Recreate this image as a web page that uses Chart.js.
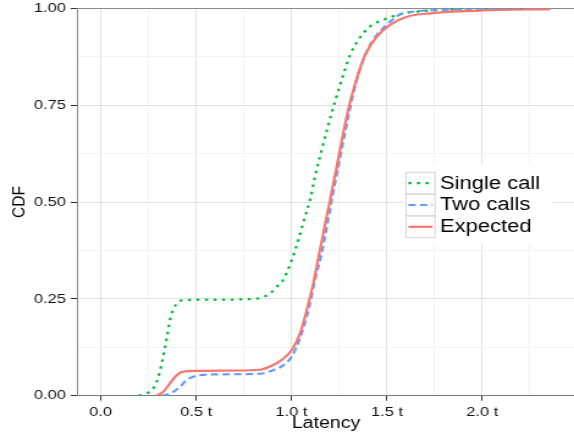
<!DOCTYPE html>
<html>
<head>
<meta charset="utf-8">
<script src="https://cdn.jsdelivr.net/npm/chart.js@4.4.1/dist/chart.umd.min.js"></script>
<style>
  html, body { margin: 0; padding: 0; background: #ffffff; overflow: hidden; }
  #wrap { width: 470px; height: 436px; transform: scaleX(1.2213); transform-origin: 0 0; }
</style>
</head>
<body>
<div id="wrap"><canvas id="c" width="470" height="436"></canvas></div>
<script>
// ---- data ----
const singleX = [0.20, 0.222, 0.250, 0.276, 0.300, 0.320, 0.346, 0.367, 0.398, 0.44, 0.60, 0.80, 0.835, 0.887, 0.931, 0.957, 1.001, 1.036, 1.071, 1.097, 1.123, 1.158, 1.193, 1.228, 1.263, 1.307, 1.350, 1.411, 1.481, 1.569, 1.69, 1.81, 2.00, 2.36];
const singleY = [0.000, 0.003, 0.008, 0.019, 0.045, 0.084, 0.148, 0.204, 0.237, 0.247, 0.248, 0.250, 0.252, 0.264, 0.285, 0.299, 0.350, 0.402, 0.462, 0.505, 0.565, 0.634, 0.699, 0.759, 0.815, 0.879, 0.918, 0.953, 0.970, 0.985, 0.993, 0.996, 0.998, 1.000];

const twoX = [0.32, 0.35, 0.38, 0.416, 0.451, 0.485, 0.52, 0.60, 0.80, 0.852, 0.905, 0.94, 1.001, 1.053, 1.097, 1.123, 1.158, 1.211, 1.245, 1.281, 1.316, 1.35, 1.394, 1.447, 1.507, 1.569, 1.673, 1.80, 2.00, 2.36];
const twoY = [0.000, 0.003, 0.010, 0.023, 0.041, 0.049, 0.053, 0.055, 0.056, 0.058, 0.066, 0.073, 0.101, 0.161, 0.238, 0.299, 0.368, 0.505, 0.591, 0.680, 0.763, 0.828, 0.888, 0.931, 0.961, 0.984, 0.993, 0.996, 0.998, 1.000];

const expX = [0.29, 0.30, 0.328, 0.363, 0.398, 0.433, 0.50, 0.70, 0.835, 0.89, 0.95, 1.001, 1.045, 1.08, 1.114, 1.149, 1.202, 1.237, 1.271, 1.307, 1.342, 1.385, 1.447, 1.516, 1.604, 1.726, 1.988, 2.355];
const expY = [0.000, 0.002, 0.010, 0.032, 0.053, 0.062, 0.064, 0.065, 0.067, 0.076, 0.093, 0.118, 0.161, 0.221, 0.290, 0.376, 0.505, 0.591, 0.677, 0.758, 0.819, 0.879, 0.927, 0.957, 0.978, 0.987, 0.994, 0.998];

const seriesNames = ['Single call', 'Two calls', 'Expected'];
const xMajorValues = [0, 0.5, 1.0, 1.5, 2.0];
const xMajorLabels = ['0.0', '0.5 t', '1.0 t', '1.5 t', '2.0 t'];
const xMinorValues = [0.25, 0.75, 1.25, 1.75, 2.25];
const yMajorValues = [0, 0.25, 0.5, 0.75, 1.0];
const yMajorLabels = ['0.00', '0.25', '0.50', '0.75', '1.00'];
const yMinorValues = [0.125, 0.375, 0.625, 0.875];
const xTitle = 'Latency';
const yTitle = 'CDF';

// ---- styles ----
const FONT = "'Liberation Sans', Arial, Helvetica, sans-serif";
const colors = { 'Single call': '#00BA38', 'Two calls': '#619CFF', 'Expected': '#F8766D' };
const dashes = { 'Single call': [2.5, 4.5], 'Two calls': [6, 3.5], 'Expected': [] };
const LW = 2.2;

function pts(xs, ys) { return xs.map((x, i) => ({ x: x, y: ys[i] })); }
function isIn(arr, v) { return arr.findIndex(a => Math.abs(a - v) < 1e-6); }

const dataMap = {
  'Single call': pts(singleX, singleY),
  'Two calls': pts(twoX, twoY),
  'Expected': pts(expX, expY)
};

// drawn so that Expected is on top
const drawOrder = ['Expected', 'Two calls', 'Single call'];
const datasets = drawOrder.map(name => ({
  label: name,
  data: dataMap[name],
  borderColor: colors[name],
  borderDash: dashes[name],
  borderWidth: LW,
  pointRadius: 0,
  fill: false,
  cubicInterpolationMode: 'monotone'
}));

const legendPlugin = {
  id: 'ggLegend',
  afterDraw(chart) {
    const ctx = chart.ctx;
    ctx.save();
    const bx = 330, by = 165, bw = 123, bh = 79;
    ctx.fillStyle = '#ffffff';
    ctx.fillRect(bx, by, bw, bh);
    const kx = 332.4, kw = 23.8, kh = 21.8, ky0 = 172.3;
    seriesNames.forEach((name, i) => {
      const ky = ky0 + i * kh;
      ctx.strokeStyle = '#d4d4d4';
      ctx.lineWidth = 1;
      ctx.setLineDash([]);
      ctx.strokeRect(kx, ky, kw, kh);
      ctx.strokeStyle = colors[name];
      ctx.lineWidth = LW;
      ctx.setLineDash(dashes[name]);
      ctx.beginPath();
      ctx.moveTo(kx + 2, ky + kh / 2);
      ctx.lineTo(kx + kw - 2, ky + kh / 2);
      ctx.stroke();
      ctx.setLineDash([]);
      ctx.fillStyle = '#000000';
      ctx.font = '18px ' + FONT;
      ctx.textBaseline = 'middle';
      ctx.textAlign = 'left';
      ctx.fillText(name, 360.3, ky + kh / 2 + 0.5);
    });
    ctx.restore();
  }
};

new Chart(document.getElementById('c'), {
  type: 'line',
  data: { datasets: datasets },
  plugins: [legendPlugin],
  options: {
    responsive: false,
    animation: false,
    events: [],
    layout: { padding: { top: 8.3, right: 0, bottom: 0, left: 0 } },
    plugins: { legend: { display: false }, tooltip: { enabled: false } },
    scales: {
      x: {
        type: 'linear',
        min: -0.1188,
        max: 2.481,
        afterBuildTicks(scale) {
          scale.ticks = xMajorValues.concat(xMinorValues).sort((a, b) => a - b).map(v => ({ value: v }));
        },
        afterFit(scale) { scale.height = 40.3; scale.paddingLeft = 0; scale.paddingRight = 0; },
        ticks: {
          autoSkip: false,
          maxRotation: 0,
          padding: 3,
          color: '#111111',
          font: { family: FONT, size: 13.5 },
          callback(v) { const i = isIn(xMajorValues, v); return i >= 0 ? xMajorLabels[i] : ''; }
        },
        grid: {
          color(c) { return isIn(xMajorValues, c.tick.value) >= 0 ? '#e2e2e2' : '#f3f3f3'; },
          lineWidth: 1,
          drawTicks: true,
          tickLength: 5,
          tickWidth: 1,
          tickColor(c) { return isIn(xMajorValues, c.tick.value) >= 0 ? '#333333' : 'rgba(0,0,0,0)'; }
        },
        border: { display: true, color: '#7a7a7a', width: 1 },
        title: {
          display: true,
          text: xTitle,
          color: '#000000',
          font: { family: FONT, size: 16 },
          padding: { top: 0, bottom: 2.5 }
        }
      },
      y: {
        type: 'linear',
        min: 0,
        max: 1,
        afterBuildTicks(scale) {
          scale.ticks = yMajorValues.concat(yMinorValues).sort((a, b) => a - b).map(v => ({ value: v }));
        },
        afterFit(scale) { scale.width = 63.9; scale.paddingTop = 0; scale.paddingBottom = 0; },
        ticks: {
          autoSkip: false,
          padding: 4,
          color: '#111111',
          font: { family: FONT, size: 13.5 },
          callback(v) { const i = isIn(yMajorValues, v); return i >= 0 ? yMajorLabels[i] : ''; }
        },
        grid: {
          color(c) {
            if (Math.abs(c.tick.value - 1) < 1e-6) return '#8a8a8a';
            return isIn(yMajorValues, c.tick.value) >= 0 ? '#e2e2e2' : '#f3f3f3';
          },
          lineWidth: 1,
          drawTicks: true,
          tickLength: 6,
          tickWidth: 1,
          tickColor(c) { return isIn(yMajorValues, c.tick.value) >= 0 ? '#333333' : 'rgba(0,0,0,0)'; }
        },
        border: { display: true, color: '#8a8a8a', width: 1 },
        title: {
          display: true,
          text: yTitle,
          color: '#000000',
          font: { family: FONT, size: 15.5 },
          padding: { top: 6, bottom: 0 }
        }
      }
    }
  }
});
</script>
</body>
</html>
